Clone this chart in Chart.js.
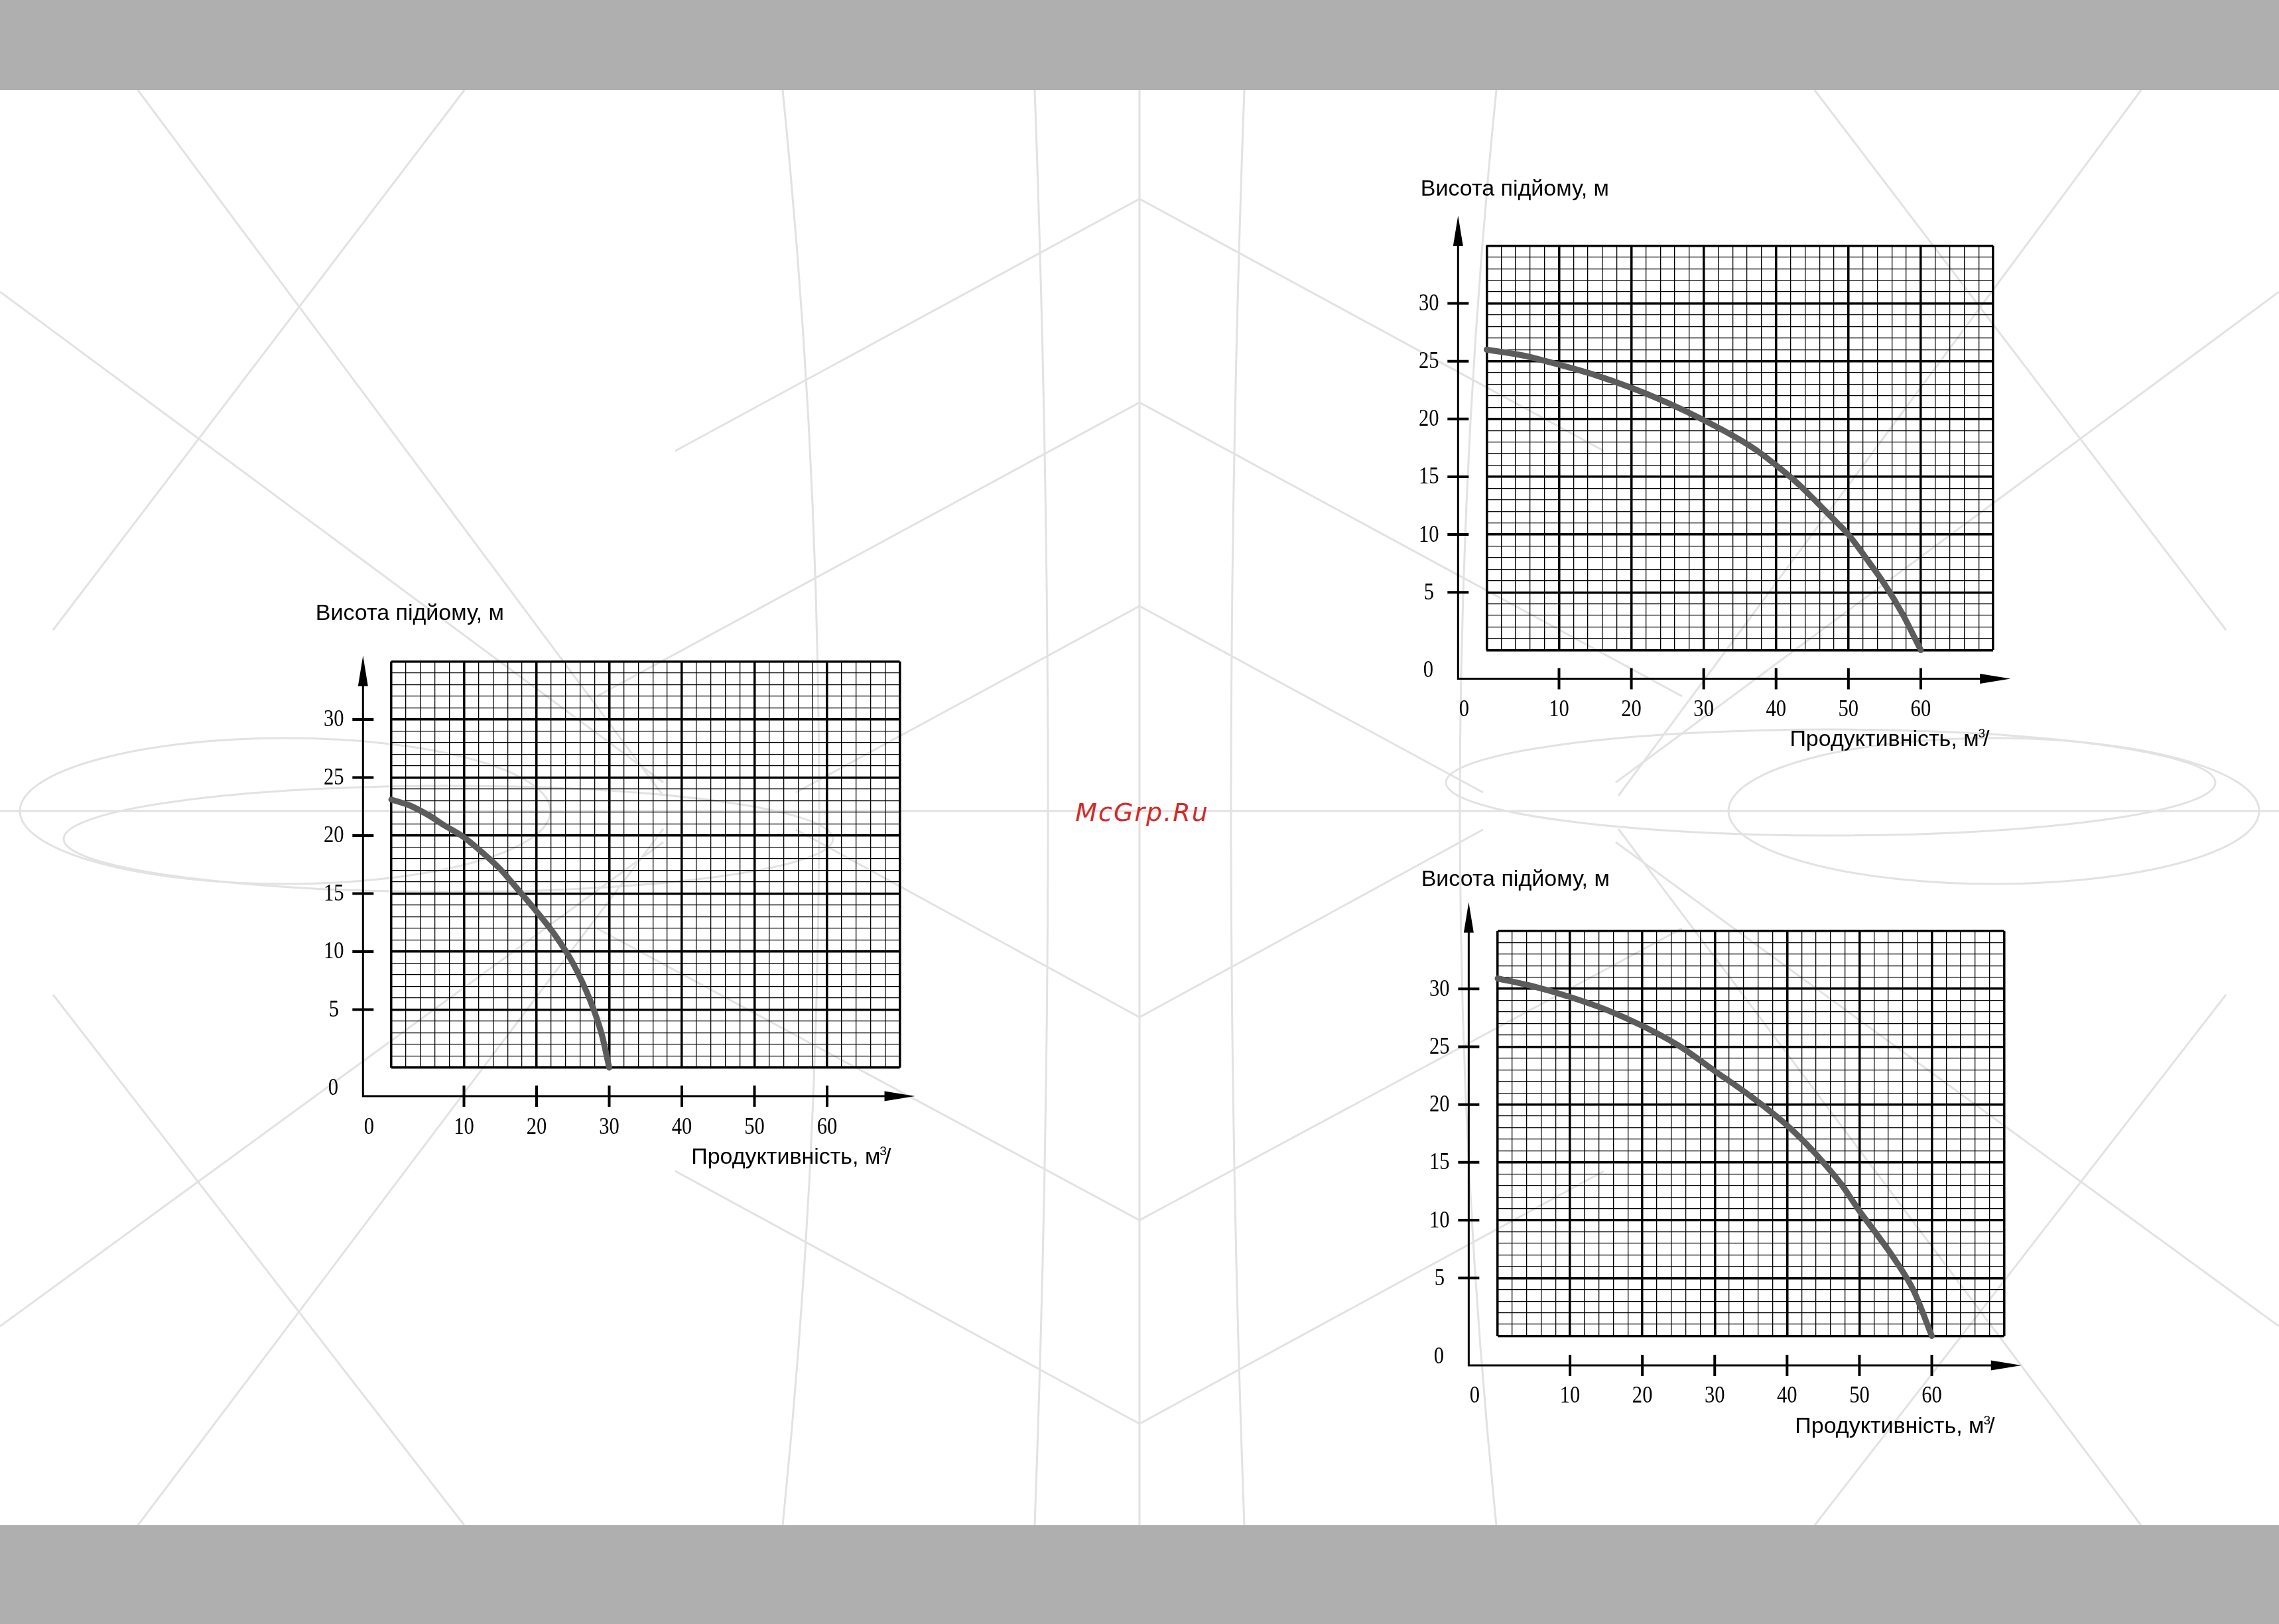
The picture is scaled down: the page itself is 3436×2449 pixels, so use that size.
<!DOCTYPE html>
<html lang="uk">
<head>
<meta charset="utf-8">
<title>Висота підйому / Продуктивність</title>
<script src="https://cdn.jsdelivr.net/npm/chart.js@4.4.1/dist/chart.umd.min.js"></script>
<style>
  html, body { margin: 0; padding: 0; background: #fff; }
  #page { position: relative; width: 3436px; height: 2449px; overflow: hidden; background: #fff; }
  .bar { position: absolute; left: 0; width: 3436px; background: #afafaf; }
  #deco { position: absolute; left: 0; top: 0; }
  .box { position: absolute; width: 980px; height: 920px; }
  #mark {
    position: absolute; left: 1722px; top: 1225px;
    transform: translate(-50%, -50%);
    font: italic 38px "DejaVu Sans"; letter-spacing: 2px; color: #d42a2a;
    white-space: nowrap;
  }
</style>
</head>
<body>
<div id="page">
  <svg id="deco" width="3436" height="2449" viewBox="0 0 3436 2449">
    <g fill="none" stroke="#e2e2e2" stroke-width="3">
      <path d="M1718 136 V2300"/>
      <path d="M0 1223 H3436"/>
      <path d="M1018 680 L1718 300 L2418 680"/>
      <path d="M900 1050 L1718 607 L2536 1050"/>
      <path d="M1200 1195 L1718 914 L2236 1195"/>
      <path d="M1018 1766 L1718 2147 L2418 1766"/>
      <path d="M900 1400 L1718 1840 L2536 1400"/>
      <path d="M1200 1251 L1718 1534 L2236 1251"/>
      <path d="M208 136 L1000 1200"/>
      <path d="M700 136 L80 950"/>
      <path d="M1180 136 Q1290 1223 1180 2300"/>
      <path d="M1560 136 Q1600 1223 1560 2300"/>
      <path d="M2256 136 Q2146 1223 2256 2300"/>
      <path d="M1876 136 Q1836 1223 1876 2300"/>
      <path d="M208 2300 L1000 1250"/>
      <path d="M700 2300 L80 1500"/>
      <path d="M3228 136 L2440 1200"/>
      <path d="M2736 136 L3356 950"/>
      <path d="M3228 2300 L2440 1250"/>
      <path d="M2736 2300 L3356 1500"/>
      <path d="M0 440 L1000 1180"/>
      <path d="M3436 440 L2436 1180"/>
      <path d="M0 2000 L1000 1270"/>
      <path d="M3436 2000 L2436 1270"/>
      <ellipse cx="430" cy="1223" rx="400" ry="110"/>
      <ellipse cx="3006" cy="1223" rx="400" ry="110"/>
      <ellipse cx="2760" cy="1180" rx="580" ry="80"/>
      <ellipse cx="676" cy="1265" rx="580" ry="80"/>
    </g>
  </svg>
  <div class="bar" style="top:0;height:136px"></div>
  <div class="bar" style="top:2300px;height:149px"></div>
  <div class="box" style="left:440px;top:880px"><canvas id="c1" width="980" height="920"></canvas></div>
  <div class="box" style="left:2100px;top:240px"><canvas id="c2" width="980" height="920"></canvas></div>
  <div class="box" style="left:2100px;top:1280px"><canvas id="c3" width="980" height="920"></canvas></div>
  <div id="mark">McGrp.Ru</div>
</div>
<script>
"use strict";
// характеристики насосів: подача (м3/год) -> напір (м)
const flow1 = [0, 2.5, 5, 7.5, 10, 12.5, 15, 17.5, 20, 22.5, 25, 27.5, 29, 30];
const head1 = [23.1, 22.6, 21.8, 20.8, 19.85, 18.55, 17.1, 15.3, 13.45, 11.45, 9.0, 5.6, 2.8, 0];

const flow2 = [0, 5, 10, 15, 20, 25, 30, 35, 37.5, 40, 42.5, 45, 47.5, 50, 52.5, 55, 57.5, 60];
const head2 = [26.0, 25.5, 24.7, 23.8, 22.7, 21.4, 19.9, 18.2, 17.2, 16.0, 14.7, 13.2, 11.6, 10.0, 7.9, 5.7, 3.1, 0];

const flow3 = [0, 5, 10, 15, 20, 25, 30, 35, 40, 42.5, 45, 47.5, 50, 52.5, 55, 57.5, 60];
const head3 = [30.9, 30.2, 29.3, 28.2, 26.8, 25.1, 22.9, 20.7, 18.2, 16.7, 15.0, 13.1, 10.8, 8.7, 6.5, 3.9, 0];

// підписи осей
const xTicks = [10, 20, 30, 40, 50, 60];
const yTicks = [5, 10, 15, 20, 25, 30];
const zeroLabel = '0';
const yTitle = 'Висота підйому, м';
const xTitle = 'Продуктивність, м';

function squeezed(ctx, text, x, y, k) {
  ctx.save();
  ctx.translate(x, y);
  ctx.scale(k, 1);
  ctx.fillText(text, 0, 0);
  ctx.restore();
}

// осі зі стрілками, засічки та підписи
const axisDeco = {
  id: 'axisDeco',
  afterDraw(chart, args, o) {
    const ctx = chart.ctx, xs = chart.scales.x, ys = chart.scales.y;
    const ax = xs.getPixelForValue(o.axisX);
    const ay = ys.getPixelForValue(o.axisY);
    const tx = xs.getPixelForValue(o.tipX);
    const ty = ys.getPixelForValue(o.tipY);
    ctx.save();
    ctx.strokeStyle = '#000';
    ctx.fillStyle = '#000';
    ctx.lineWidth = 3;
    ctx.beginPath();
    ctx.moveTo(tx - 30, ay);
    ctx.lineTo(ax, ay);
    ctx.lineTo(ax, ty + 30);
    ctx.stroke();

    ctx.beginPath();
    ctx.moveTo(tx, ay);
    ctx.lineTo(tx - 46, ay - 7.5);
    ctx.lineTo(tx - 46, ay + 7.5);
    ctx.closePath();
    ctx.fill();
    ctx.beginPath();
    ctx.moveTo(ax, ty);
    ctx.lineTo(ax - 7.5, ty + 46);
    ctx.lineTo(ax + 7.5, ty + 46);
    ctx.closePath();
    ctx.fill();

    ctx.lineWidth = 4;
    ctx.beginPath();
    xTicks.forEach(v => {
      const p = xs.getPixelForValue(v);
      ctx.moveTo(p, ay - 16);
      ctx.lineTo(p, ay + 16);
    });
    yTicks.forEach(v => {
      const p = ys.getPixelForValue(v);
      ctx.moveTo(ax - 16, p);
      ctx.lineTo(ax + 16, p);
    });
    ctx.stroke();

    ctx.font = '36px "Liberation Serif"';
    ctx.textAlign = 'center';
    ctx.textBaseline = 'middle';
    xTicks.forEach(v => squeezed(ctx, String(v), xs.getPixelForValue(v), ay + 47, 0.85));
    yTicks.forEach(v => squeezed(ctx, String(v), ax - 44, ys.getPixelForValue(v) + 1, 0.85));
    squeezed(ctx, zeroLabel, ax + 9, ay + 47, 0.85);
    squeezed(ctx, zeroLabel, ax - 45, ay - 12, 0.85);

    ctx.font = '34px "Liberation Sans"';
    ctx.textBaseline = 'alphabetic';
    ctx.textAlign = 'left';
    ctx.fillText(yTitle, ax + o.titleDx, chart.chartArea.top + o.titleDy);

    const right = xs.getPixelForValue(o.labelX);
    const by = ay + o.labelDy;
    ctx.textAlign = 'right';
    ctx.fillText('/', right, by);
    const slashW = ctx.measureText('/').width;
    ctx.font = '19px "Liberation Sans"';
    ctx.fillText('3', right - slashW + 3, by - 13);
    const supW = ctx.measureText('3').width;
    ctx.font = '34px "Liberation Sans"';
    ctx.fillText(xTitle, right - slashW - supW + 4, by);
    ctx.restore();
  }
};

function makeChart(id, flow, head, pad, deco) {
  const ctx = document.getElementById(id).getContext('2d');
  return new Chart(ctx, {
    type: 'line',
    data: {
      datasets: [{
        data: flow.map((x, i) => ({ x: x, y: head[i] })),
        borderColor: '#5c5c5c',
        borderWidth: 9,
        borderCapStyle: 'round',
        borderJoinStyle: 'round',
        pointRadius: 0,
        cubicInterpolationMode: 'monotone',
        fill: false,
        clip: false
      }]
    },
    options: {
      responsive: false,
      animation: false,
      devicePixelRatio: 1,
      layout: { padding: pad },
      plugins: {
        legend: { display: false },
        tooltip: { enabled: false },
        axisDeco: deco
      },
      scales: {
        x: {
          type: 'linear', min: 0, max: 70,
          ticks: { display: false, stepSize: 2, maxTicksLimit: 1000 },
          grid: {
            color: '#000',
            lineWidth: c => (c.tick.value % 10 === 0 ? 3.5 : 1.3),
            drawTicks: false
          },
          border: { display: false }
        },
        y: {
          type: 'linear', min: 0, max: 35,
          ticks: { display: false, stepSize: 1, maxTicksLimit: 1000 },
          grid: {
            color: '#000',
            lineWidth: c => (c.tick.value % 5 === 0 ? 3.5 : 1.3),
            drawTicks: false
          },
          border: { display: false }
        }
      }
    },
    plugins: [axisDeco]
  });
}

makeChart('c1', flow1, head1,
  { left: 150, top: 117.5, right: 63.5, bottom: 190 },
  { axisX: -3.9, axisY: -2.46, tipX: 72.1, tipY: 35.5, titleDx: -71.5, titleDy: -63, labelX: 68.8, labelDy: 102 });

makeChart('c2', flow2, head2,
  { left: 141.4, top: 130.4, right: 75, bottom: 179.6 },
  { axisX: -3.95, axisY: -2.48, tipX: 72.4, tipY: 37.6, titleDx: -56.5, titleDy: -75, labelX: 69.5, labelDy: 101 });

makeChart('c3', flow3, head3,
  { left: 158, top: 124, right: 58.4, bottom: 185.5 },
  { axisX: -4.0, axisY: -2.55, tipX: 72.4, tipY: 37.5, titleDx: -71.7, titleDy: -68, labelX: 68.7, labelDy: 102 });
</script>
</body>
</html>
